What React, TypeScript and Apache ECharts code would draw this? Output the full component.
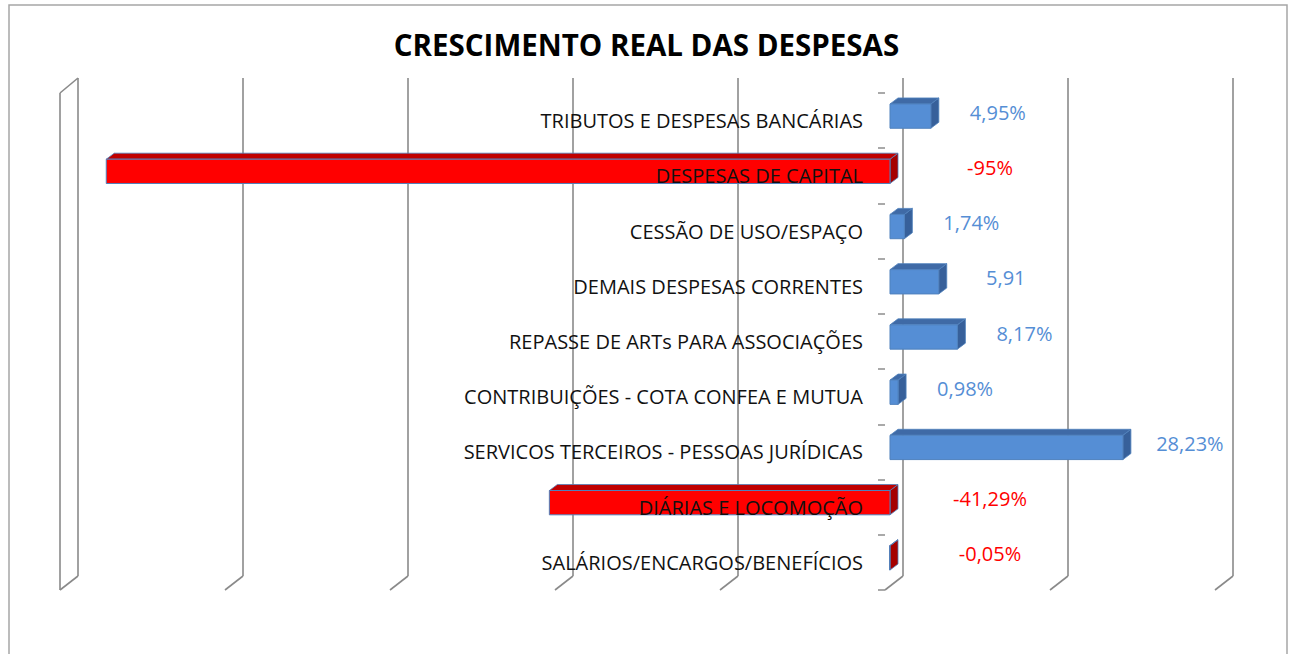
import React, { useEffect, useRef } from "react";
import * as echarts from "echarts";

const categories = [
  "SALÁRIOS/ENCARGOS/BENEFÍCIOS",
  "DIÁRIAS E LOCOMOÇÃO",
  "SERVICOS TERCEIROS - PESSOAS JURÍDICAS",
  "CONTRIBUIÇÕES - COTA CONFEA E MUTUA",
  "REPASSE DE ARTs PARA ASSOCIAÇÕES",
  "DEMAIS DESPESAS CORRENTES",
  "CESSÃO DE USO/ESPAÇO",
  "DESPESAS DE CAPITAL",
  "TRIBUTOS E DESPESAS BANCÁRIAS",
];
const values = [-0.05, -41.29, 28.23, 0.98, 8.17, 5.91, 1.74, -95, 4.95];
const valueLabels = ["-0,05%", "-41,29%", "28,23%", "0,98%", "8,17%", "5,91", "1,74%", "-95%", "4,95%"];
const xTicks = [-100, -80, -60, -40, -20, 0, 20, 40];
const X_MIN = -100;
const X_MAX = 40;

const FONT = "'Open Sans', 'Noto Sans', sans-serif";
const DX = 18;
const DY = -14;
const GRID_LEFT = 60;
const GRID_RIGHT = 78;
const CHART_W = 1293;

export default function App() {
  const ref = useRef<HTMLDivElement>(null);
  useEffect(() => {
    if (!ref.current) return;
    const chart = echarts.init(ref.current, null, { renderer: "svg" });
    const gridW = CHART_W - GRID_LEFT - GRID_RIGHT;
    const zeroOffset = (gridW * (0 - X_MIN)) / (X_MAX - X_MIN);
    const option: any = {
      animation: false,
      backgroundColor: "#ffffff",
      title: {
        text: "CRESCIMENTO REAL DAS DESPESAS",
        left: "center",
        top: 24,
        textStyle: { fontFamily: FONT, fontSize: 29.5, fontWeight: "bold", color: "#000" },
      },
      graphic: [
        {
          type: "rect",
          shape: { x: 9, y: 5, width: 1278, height: 670 },
          style: { fill: "none", stroke: "#a6a6a6", lineWidth: 1.5 },
          z: 0,
        },
      ],
      grid: {
        left: GRID_LEFT,
        right: GRID_RIGHT,
        top: 93,
        bottom: 64,
        containLabel: false,
        outerBoundsMode: "none",
      },
      xAxis: {
        type: "value",
        min: X_MIN,
        max: X_MAX,
        interval: 20,
        show: false,
        splitLine: { show: false },
      },
      yAxis: {
        type: "category",
        data: categories,
        z: 10,
        offset: -zeroOffset,
        axisLine: { show: false, onZero: false },
        axisTick: { show: true, length: 7, lineStyle: { color: "#8c8c8c", width: 1.5 } },
        axisLabel: { fontFamily: FONT, fontSize: 20, color: "#111", margin: 22 },
        splitLine: { show: false },
      },
      series: [
        {
          type: "custom",
          z: 1,
          data: xTicks.map((t) => [t, 0]),
          encode: { x: 0, y: 1 },
          renderItem: (params: any, api: any) => {
            const cs = params.coordSys;
            const x = api.coord([api.value(0), 0])[0];
            const top = cs.y;
            const bottom = cs.y + cs.height;
            const st = { stroke: "#8a8a8a", lineWidth: 1.6 };
            const children: any[] = [
              { type: "line", shape: { x1: x + DX, y1: top + DY - 1, x2: x + DX, y2: bottom + DY }, style: st },
              { type: "line", shape: { x1: x + DX, y1: bottom + DY, x2: x, y2: bottom }, style: st },
            ];
            if (params.dataIndex === 0) {
              children.push({ type: "line", shape: { x1: x, y1: top, x2: x, y2: bottom }, style: st });
              children.push({ type: "line", shape: { x1: x, y1: top, x2: x + DX, y2: top + DY - 1 }, style: st });
            }
            return { type: "group", children };
          },
        },
        {
          type: "custom",
          z: 2,
          data: values.map((v, i) => [v, i]),
          encode: { x: 0, y: 1 },
          renderItem: (params: any, api: any) => {
            const v = api.value(0);
            const idx = api.value(1);
            const p0 = api.coord([0, idx]);
            const p1 = api.coord([v, idx]);
            const band = api.size([0, 1])[1];
            const h = band * 0.44;
            const cy = p0[1] - 4.5;
            const x0 = Math.min(p0[0], p1[0]) + 5;
            const x1 = Math.max(p0[0], p1[0]) + 5;
            const y0 = cy - h / 2;
            const y1 = cy + h / 2;
            const dx = 8;
            const dy = -6;
            const neg = v < 0;
            const front = neg ? "#ff0000" : "#558ed5";
            const topC = neg ? "#c00000" : "#3f6aa6";
            const sideC = neg ? "#a50000" : "#37609a";
            const edge = "#4f81bd";
            const label = valueLabels[params.dataIndex];
            const lx = neg ? p0[0] + 105 : p1[0] + 72;
            return {
              type: "group",
              children: [
                {
                  type: "polygon",
                  shape: { points: [[x1, y0], [x1 + dx, y0 + dy], [x1 + dx, y1 + dy], [x1, y1]] },
                  style: { fill: sideC, stroke: edge, lineWidth: 0.8 },
                },
                {
                  type: "polygon",
                  shape: { points: [[x0, y0], [x1, y0], [x1 + dx, y0 + dy], [x0 + dx, y0 + dy]] },
                  style: { fill: topC, stroke: edge, lineWidth: 0.8 },
                },
                {
                  type: "rect",
                  shape: { x: x0, y: y0, width: Math.max(x1 - x0, 0.5), height: h },
                  style: { fill: front, stroke: edge, lineWidth: 1 },
                },
                {
                  type: "text",
                  x: lx,
                  y: cy - 4,
                  style: {
                    text: label,
                    fill: neg ? "#ff0000" : "#558ed5",
                    font: `20px ${FONT}`,
                    align: "center",
                    verticalAlign: "middle",
                  },
                },
              ],
            };
          },
        },
      ],
    };
    chart.setOption(option);
    return () => chart.dispose();
  }, []);
  return (
    <div
      ref={ref}
      style={{ position: "fixed", left: 0, top: 0, width: 1293, height: 654, background: "#fff" }}
    />
  );
}
